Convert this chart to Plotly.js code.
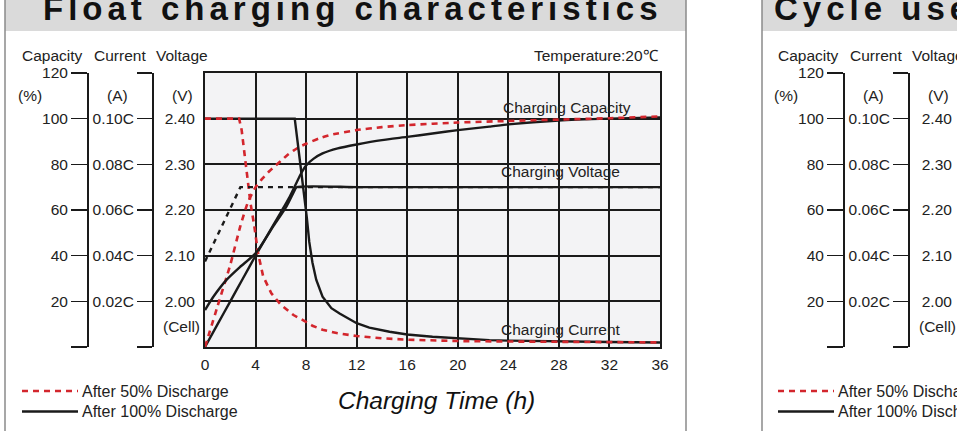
<!DOCTYPE html>
<html><head><meta charset="utf-8">
<script src="https://cdn.plot.ly/plotly-3.0.1.min.js"></script>
<style>html,body{margin:0;padding:0;background:#fff;}#chart{width:957px;height:431px;}</style>
</head><body><div id="chart"></div>
<script>
// ---------------- data ----------------
const timeTicks = [0,4,8,12,16,20,24,28,32,36];
const capacityTicks = [0,20,40,60,80,100,120];
const capacityTickText = ['','20','40','60','80','100','120'];
const currentTicks = [0,0.02,0.04,0.06,0.08,0.10,0.12];
const currentTickText = ['','0.02C','0.04C','0.06C','0.08C','0.10C',''];
const voltageTicks = [2.0,2.1,2.2,2.3,2.4];
const voltageTickText = ['2.00','2.10','2.20','2.30','2.40'];

// After 50% discharge
const tCap50 = [0,1,2,2.8,3.4,4,4.5,5,5.5,6,6.5,7,7.5,8,9,10,12,14,16,20,24,28,32,36];
const capacity50 = [0,18,36,53,63.5,70,73.5,76.5,79,81.5,84,86,87.7,89,91.3,93,95,96.3,97.2,98.3,99,99.6,100.2,101];
const tCur50 = [0,2.7,2.9,3.1,3.3,3.45,3.6,3.9,4.2,4.6,5.25,6,7,7.75,8.5,9.3,10.5,12,14,16,20,24,28,32,36];
const current50 = [0.100,0.100,0.095,0.086,0.077,0.070,0.063,0.053,0.041,0.031,0.0235,0.0185,0.014,0.0118,0.0093,0.0076,0.006,0.0048,0.0038,0.0032,0.0026,0.0024,0.0022,0.0021,0.002];
const tVolt50 = [0,2.8,36];
const voltage50 = [2.087,2.25,2.25];

// After 100% discharge
const tCap100 = [0,1,2,3,4,5,6,6.7,7.2,7.6,8,8.6,9.3,10.5,12,14,16,18,20,22.5,24,28,32,36];
const capacity100 = [0,10,20,30,40,49.5,59,65.8,71.5,76,79.5,82.5,84.8,87,88.7,90.6,92,93.5,95,96.5,97.5,99.2,100,100.5];
const tCur100 = [0,7.1,7.5,7.8,8.05,8.25,8.5,8.8,9.3,10,10.65,12,13,14.6,16,18,20,22.5,24,28,32,36];
const current100 = [0.1,0.1,0.082,0.069,0.057,0.046,0.037,0.0295,0.022,0.017,0.0147,0.0104,0.0085,0.0067,0.0055,0.0045,0.0038,0.003,0.0028,0.0024,0.0022,0.002];
const tVolt100 = [0,0.66,1.7,2.76,4,5.4,6.45,7.0,7.25,12,24,36];
const voltage100 = [1.981,2.01,2.047,2.075,2.105,2.164,2.208,2.238,2.25,2.25,2.25,2.25];

// ---------------- layout helpers ----------------
const W = 957, H = 431;
const PX = x => x / W, PY = y => 1 - y / H;
const SHIFT = 756;
const plotL = 205, plotR = 660, plotT = 73, plotB = 347;
const FONT = 'Liberation Sans, Arial, Helvetica, sans-serif';
const TXT = '#222';
const RED = '#d3262d', BLK = '#1a1a1a';
const tickFont = {family: FONT, size: 15.5, color: TXT};
const yDomain = [PY(plotB), PY(plotT)];

const redLine = {color: RED, width: 2.6, dash: '6px,5px'};
const blkLine = {color: BLK, width: 2.4};

const data = [
  {x: tCap100, y: capacity100, xaxis: 'x', yaxis: 'y', mode: 'lines', line: Object.assign({shape: 'spline', smoothing: 0.5}, blkLine), name: 'Capacity after 100% discharge'},
  {x: tCap50, y: capacity50, xaxis: 'x', yaxis: 'y', mode: 'lines', line: Object.assign({shape: 'spline', smoothing: 0.5}, redLine), name: 'Capacity after 50% discharge'},
  {x: tCur100, y: current100, xaxis: 'x', yaxis: 'y2', mode: 'lines', line: blkLine, name: 'Current after 100% discharge'},
  {x: tCur50, y: current50, xaxis: 'x', yaxis: 'y2', mode: 'lines', line: redLine, name: 'Current after 50% discharge'},
  {x: tVolt50, y: voltage50, xaxis: 'x', yaxis: 'y3', mode: 'lines', line: {color: BLK, width: 2.4, dash: '5px,5px'}, name: 'Voltage after 50% discharge'},
  {x: tVolt100, y: voltage100, xaxis: 'x', yaxis: 'y3', mode: 'lines', line: Object.assign({shape: 'spline', smoothing: 0.5}, blkLine), name: 'Voltage after 100% discharge'},
  // right panel (cycle use) axes, no visible data in view
  {x: [], y: [], xaxis: 'x', yaxis: 'y4', mode: 'lines', hoverinfo: 'skip'},
  {x: [], y: [], xaxis: 'x', yaxis: 'y5', mode: 'lines', hoverinfo: 'skip'},
  {x: [], y: [], xaxis: 'x', yaxis: 'y6', mode: 'lines', hoverinfo: 'skip'}
];

function bracketAxis(pos, range, vals, text, len) {
  return {overlaying: 'y', anchor: 'free', position: PX(pos), side: 'left', range: range,
    tickvals: vals, ticktext: text, ticks: 'outside', ticklen: len, tickwidth: 1.5, tickcolor: BLK,
    showline: true, linecolor: BLK, linewidth: 1.5, showgrid: false, zeroline: false,
    tickfont: tickFont, fixedrange: true};
}
function labelAxis(pos, len) {
  return {overlaying: 'y', anchor: 'free', position: PX(pos), side: 'left', range: [1.9, 2.5],
    tickvals: voltageTicks, ticktext: voltageTickText, ticks: 'outside', ticklen: len,
    tickcolor: 'rgba(0,0,0,0)', showline: false, showgrid: false, zeroline: false, tickfont: tickFont, fixedrange: true};
}

const yaxis = bracketAxis(87, [0, 120], capacityTicks, capacityTickText, 16);
delete yaxis.overlaying;
yaxis.domain = yDomain;

const layout = {
  width: W, height: H,
  margin: {l: 0, r: 0, t: 0, b: 0, autoexpand: false},
  paper_bgcolor: '#ffffff', plot_bgcolor: '#f3f3f5',
  showlegend: false,
  xaxis: {domain: [PX(plotL), PX(plotR)], range: [0, 36], anchor: 'y', tickvals: timeTicks,
    ticks: 'outside', ticklen: 2, tickcolor: 'rgba(0,0,0,0)', showgrid: true, gridcolor: BLK, gridwidth: 2,
    showline: true, linecolor: BLK, linewidth: 2, mirror: true, zeroline: false, tickfont: tickFont, fixedrange: true},
  yaxis: yaxis,
  yaxis2: bracketAxis(152, [0, 0.12], currentTicks, currentTickText, 15),
  yaxis3: {overlaying: 'y', anchor: 'x', side: 'left', range: [1.9, 2.5], tickvals: voltageTicks, ticktext: voltageTickText,
    ticks: 'outside', ticklen: 5, tickcolor: 'rgba(0,0,0,0)', showgrid: true, gridcolor: BLK, gridwidth: 2,
    showline: true, mirror: true, linecolor: BLK, linewidth: 2, zeroline: false, tickfont: tickFont, fixedrange: true},
  yaxis4: bracketAxis(87 + SHIFT, [0, 120], capacityTicks, capacityTickText, 16),
  yaxis5: bracketAxis(152 + SHIFT, [0, 0.12], currentTicks, currentTickText, 15),
  yaxis6: labelAxis(957, 2),
  shapes: [],
  annotations: []
};

function rectPx(x0, y0, x1, y1, fill) {
  layout.shapes.push({type: 'rect', xref: 'paper', yref: 'paper', x0: PX(x0), x1: PX(x1), y0: PY(y1), y1: PY(y0),
    fillcolor: fill, line: {width: 0}, layer: 'below'});
}
function linePx(x0, y0, x1, y1, line) {
  layout.shapes.push({type: 'line', xref: 'paper', yref: 'paper', x0: PX(x0), x1: PX(x1), y0: PY(y0), y1: PY(y1), line: line});
}
function textPx(text, x, y, xanchor, font) {
  layout.annotations.push({text: text, xref: 'paper', yref: 'paper', x: PX(x), y: PY(y), xanchor: xanchor, yanchor: 'middle',
    showarrow: false, align: xanchor === 'right' ? 'right' : (xanchor === 'left' ? 'left' : 'center'),
    font: Object.assign({family: FONT, size: 15.5, color: TXT}, font || {})});
}

// panels: title bands and borders
rectPx(5, -2, 686, 31, '#dadada');
rectPx(762, -2, 960, 31, '#dadada');
const border = {color: '#8a8a8a', width: 1.5};
linePx(5, 0, 5, 432, border);
linePx(686, 0, 686, 432, border);
linePx(762, 0, 762, 432, border);

// titles
const titleFont = {size: 33, weight: 'bold', color: '#111'};
textPx('Float charging characteristics', 41, 9, 'left', titleFont);
textPx('Cycle use', 772, 9, 'left', titleFont);

// both panels share the left-hand scale headings and legend
[0, SHIFT].forEach(function (s) {
  textPx('Capacity', 52.7 + s, 55, 'center');
  textPx('Current', 119.5 + s, 55, 'center');
  textPx('Voltage', 182 + s, 55, 'center');
  textPx('(%)', 29.5 + s, 95, 'center');
  textPx('(A)', 117 + s, 95, 'center');
  textPx('(V)', 182 + s, 95, 'center');
  textPx('(Cell)', 181 + s, 326, 'center');
  linePx(22 + s, 391, 78 + s, 391, {color: RED, width: 2.6, dash: '6px,5px'});
  linePx(22 + s, 411.5, 78 + s, 411.5, {color: BLK, width: 2.4});
  textPx('After 50% Discharge', 80 + s, 391, 'left', {size: 16});
  textPx('After 100% Discharge', 80 + s, 411.5, 'left', {size: 16});
});

textPx('Temperature:20℃', 661, 55, 'right');
textPx('Charging Capacity', 566.5, 107.5, 'center');
textPx('Charging Voltage', 560, 171, 'center');
textPx('Charging Current', 560.5, 329, 'center');
textPx('Charging Time (h)', 436, 400, 'center', {size: 24.5, style: 'italic', color: '#111'});

Plotly.newPlot('chart', data, layout, {staticPlot: true, displayModeBar: false}).then(function (gd) {
  gd.querySelectorAll('.annotation-text').forEach(function (t) {
    var s = t.textContent;
    if (s.indexOf('characteristics') >= 0 || s.indexOf('Cycle use') >= 0) t.style.letterSpacing = '5px';
  });
});
</script>
</body></html>
